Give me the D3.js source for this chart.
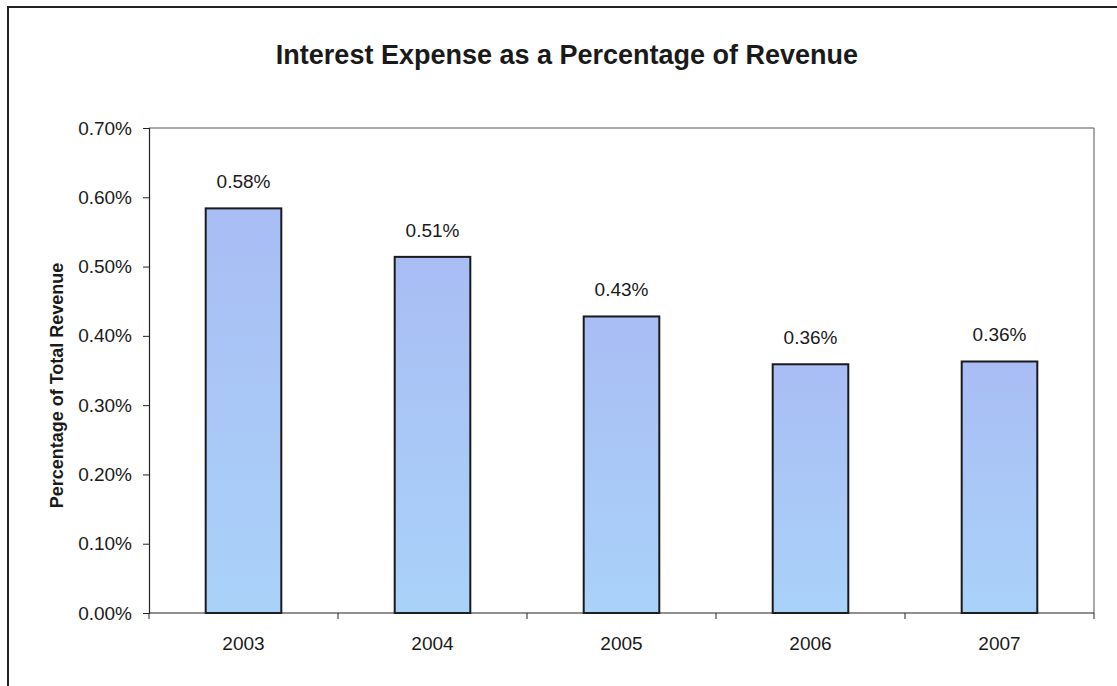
<!DOCTYPE html>
<html>
<head>
<meta charset="utf-8">
<script src="https://cdn.jsdelivr.net/npm/d3@7"></script>
<style>
  body { margin: 0; background: #fff; }
  text { font-family: Arial, "Liberation Sans", sans-serif; fill: #1a1a1a; }
</style>
</head>
<body>
<svg id="chart" width="1117" height="686"></svg>
<script>
// data
var years = ["2003", "2004", "2005", "2006", "2007"];
var values = [0.00584, 0.00514, 0.00428, 0.00359, 0.00363];
var labels = ["0.58%", "0.51%", "0.43%", "0.36%", "0.36%"];
var yTicks = [0, 0.001, 0.002, 0.003, 0.004, 0.005, 0.006, 0.007];

var svg = d3.select("#chart");
var plotLeft = 149, plotRight = 1094, plotTop = 128, plotBottom = 613;

// outer chart border (runs off the right and bottom edges)
svg.append("rect")
  .attr("x", 8).attr("y", 7)
  .attr("width", 1130).attr("height", 700)
  .attr("fill", "none").attr("stroke", "#222").attr("stroke-width", 2);

var defs = svg.append("defs");
var grad = defs.append("linearGradient").attr("id", "barfill")
  .attr("x1", 0).attr("y1", 0).attr("x2", 0).attr("y2", 1);
grad.append("stop").attr("offset", "0%").attr("stop-color", "#a9bdf4");
grad.append("stop").attr("offset", "100%").attr("stop-color", "#a9d2f9");

var x = d3.scaleBand().domain(years).range([plotLeft, plotRight]).paddingInner(0.6).paddingOuter(0.3);
var y = d3.scaleLinear().domain([0, 0.007]).range([plotBottom, plotTop]);

// plot area border (top + right, light)
svg.append("path")
  .attr("d", "M" + plotLeft + "," + plotTop + "H" + plotRight + "V" + plotBottom)
  .attr("fill", "none").attr("stroke", "#555").attr("stroke-width", 1);

// bars
svg.selectAll(".bar").data(values).enter().append("rect")
  .attr("class", "bar")
  .attr("x", function(d, i) { return x(years[i]); })
  .attr("y", function(d) { return y(d); })
  .attr("width", x.bandwidth())
  .attr("height", function(d) { return y(0) - y(d); })
  .attr("fill", "url(#barfill)")
  .attr("stroke", "#1a1a1a").attr("stroke-width", 2);

// value labels
svg.selectAll(".val").data(values).enter().append("text")
  .attr("class", "val")
  .attr("x", function(d, i) { return x(years[i]) + x.bandwidth() / 2; })
  .attr("y", function(d) { return y(d) - 20; })
  .attr("text-anchor", "middle")
  .style("font-size", "19px")
  .text(function(d, i) { return labels[i]; });

// y axis
var yAxis = d3.axisLeft(y).tickValues(yTicks).tickSize(6).tickPadding(11)
  .tickFormat(d3.format(".2%"));
var gy = svg.append("g").attr("transform", "translate(" + plotLeft + ",0)").call(yAxis);
gy.select(".domain").attr("stroke", "#222").attr("stroke-width", 1.2);
gy.selectAll(".tick line").attr("stroke", "#222");
gy.selectAll(".tick text").style("font-size", "19px").attr("fill", "#1a1a1a")
  .style("font-family", "Arial, 'Liberation Sans', sans-serif");

// x axis: ticks at category boundaries
var step = (plotRight - plotLeft) / years.length;
var gx = svg.append("g").attr("transform", "translate(0," + plotBottom + ")");
gx.append("line").attr("x1", plotLeft).attr("x2", plotRight)
  .attr("stroke", "#222").attr("stroke-width", 1.2);
gx.selectAll(".xt").data(d3.range(years.length + 1)).enter().append("line")
  .attr("x1", function(i) { return plotLeft + i * step; })
  .attr("x2", function(i) { return plotLeft + i * step; })
  .attr("y1", 0).attr("y2", 6)
  .attr("stroke", "#222");
gx.selectAll(".xl").data(years).enter().append("text")
  .attr("x", function(d) { return x(d) + x.bandwidth() / 2; })
  .attr("y", 37)
  .attr("text-anchor", "middle")
  .style("font-size", "19px")
  .text(function(d) { return d; });

// title
svg.append("text")
  .attr("x", 567).attr("y", 64)
  .attr("text-anchor", "middle")
  .style("font-size", "27px").style("font-weight", "bold")
  .text("Interest Expense as a Percentage of Revenue");

// y axis title
svg.append("text")
  .attr("transform", "translate(63," + ((plotTop + plotBottom) / 2 + 15) + ") rotate(-90)")
  .attr("text-anchor", "middle")
  .style("font-size", "18px").style("font-weight", "bold")
  .text("Percentage of Total Revenue");
</script>
</body>
</html>
